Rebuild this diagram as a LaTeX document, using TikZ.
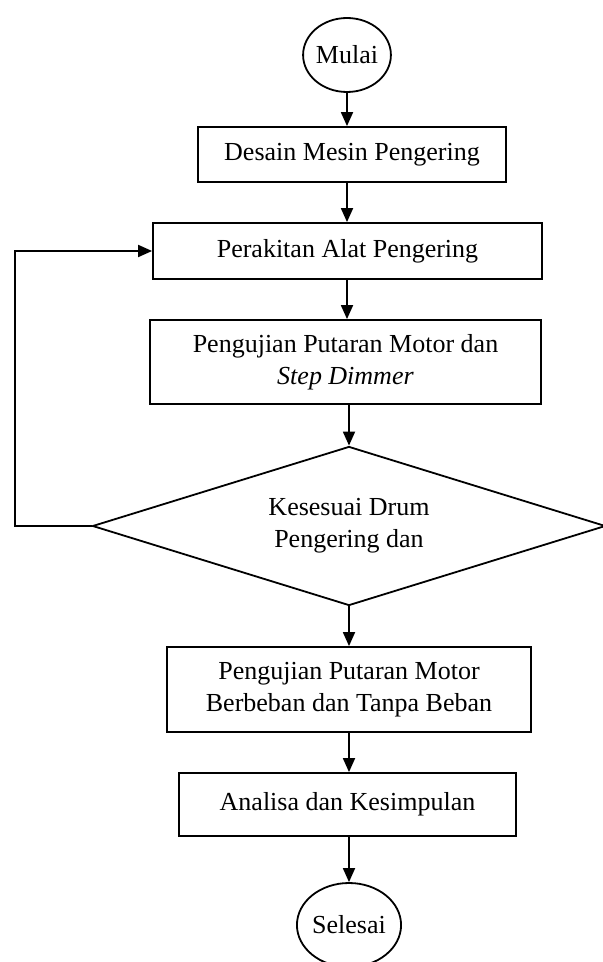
\documentclass[tikz,border=0pt]{standalone}
\usepackage{fontspec}
\setmainfont{Liberation Serif}
\usetikzlibrary{shapes.geometric,arrows.meta}

\begin{document}
\begin{tikzpicture}[x=0.5pt, y=-0.5pt, line width=0.9pt,
  >={Triangle[width=6pt,length=7pt]},
  terminal/.style={draw, ellipse, inner sep=0pt, font=\fontsize{13}{16}\selectfont},
  proses/.style={draw, rectangle, align=center, inner sep=0pt, font=\fontsize{13}{16}\selectfont},
  keputusan/.style={draw, diamond, align=center, inner sep=0pt, aspect=3.2, font=\fontsize{13}{16}\selectfont}]

  % Page frame
  \useasboundingbox (0,0) rectangle (603,962);

  % Start
  \node[terminal, minimum width=43pt, minimum height=37pt] (mulai) at (347,55) {Mulai};

  % Process steps
  \node[proses, minimum width=154pt, minimum height=27.5pt] (desain) at (352,154.5) {Desain Mesin Pengering};
  \node[proses, minimum width=194.5pt, minimum height=28pt] (rakit) at (347.5,251) {Perakitan Alat Pengering};
  \node[proses, minimum width=195.5pt, minimum height=42pt] (ujimotor) at (345.5,362)
    {Pengujian Putaran Motor dan\\ \textit{Step Dimmer}};

  % Decision
  \node[keputusan, minimum width=256.5pt, minimum height=79.5pt] (cek) at (349,526)
    {Kesesuai Drum\\ Pengering dan};

  \node[proses, minimum width=182pt, minimum height=42.5pt] (ujibeban) at (349,689.5)
    {Pengujian Putaran Motor\\ Berbeban dan Tanpa Beban};
  \node[proses, minimum width=168.5pt, minimum height=31.5pt] (analisa) at (347.5,804.5) {Analisa dan Kesimpulan};

  % End
  \node[terminal, minimum width=48pt, minimum height=42pt] (selesai) at (349,925) {Selesai};

  % Flow
  \draw[->] (mulai) -- (mulai |- desain.north);
  \draw[->] (desain.south -| mulai) -- (rakit.north -| mulai);
  \draw[->] (rakit.south -| mulai) -- (ujimotor.north -| mulai);
  \draw[->] (ujimotor.south -| cek) -- (cek.north);
  \draw[->] (cek.south) -- (ujibeban.north);
  \draw[->] (ujibeban.south -| cek) -- (analisa.north -| cek);
  \draw[->] (analisa.south -| cek) -- (selesai.north);

  % Loop back
  \draw[->] (cek.west) -- ++(-77,0) |- (rakit.west);

\end{tikzpicture}
\end{document}
